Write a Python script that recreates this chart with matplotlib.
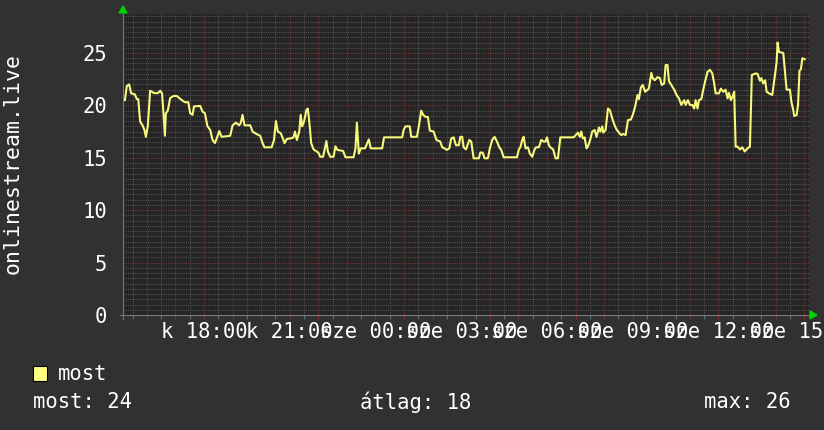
import matplotlib
matplotlib.use("Agg")
import matplotlib.pyplot as plt
from matplotlib.patches import Rectangle, Polygon
import numpy as np

# minutes since the left edge (15:10) and viewer counts
minutes = [4, 8, 13, 17, 25, 29, 32, 36, 41, 45, 48, 52, 57, 64, 71, 74, 78, 82, 85, 88,
           90, 94, 99, 106, 113, 118, 125, 130, 137, 141, 146, 149, 162, 167, 172, 177, 183, 188, 193, 198,
           202, 207, 225, 230, 237, 244, 247, 251, 255, 267, 272, 281, 288, 293, 297, 312, 317, 321, 325, 331,
           336, 339, 344, 352, 358, 361, 365, 370, 373, 376, 380, 385, 388, 392, 395, 400, 410, 414, 420, 423,
           427, 430, 435, 442, 446, 450, 462, 467, 484, 488, 491, 495, 499, 508, 516, 520, 523, 544,
           548, 586, 589, 593, 602, 605, 617, 621, 626, 630, 635, 640, 644, 652, 658, 666, 670, 675, 680, 685,
           689, 694, 699, 705, 708, 712, 715, 720, 727, 731, 736, 747, 750, 755, 759, 766, 770, 775, 780, 785,
           790, 794, 799, 827, 831, 834, 838, 841, 845, 850, 854, 859, 864, 867, 873, 878, 883, 887, 890, 894,
           897, 903, 908, 913, 918, 946, 951, 955, 959, 962, 965, 969, 973, 976, 980, 985, 990, 994, 999, 1002,
           1006, 1008, 1013, 1018, 1022, 1027, 1032, 1036, 1041, 1046, 1050, 1055, 1060, 1066, 1070, 1075, 1080, 1083, 1087, 1091,
           1096, 1104, 1109, 1112, 1116, 1122, 1127, 1131, 1136, 1139, 1143, 1146, 1151, 1157, 1162, 1167, 1172, 1178, 1181, 1186,
           1190, 1195, 1199, 1202, 1206, 1209, 1214, 1218, 1222, 1227, 1232, 1237, 1241, 1244, 1251, 1255, 1260, 1265, 1269, 1272,
           1276, 1279, 1283, 1286, 1290, 1295, 1300, 1305, 1311, 1316, 1320, 1328, 1332, 1337, 1340, 1344, 1348, 1351, 1356, 1363,
           1367, 1372, 1374, 1377, 1386, 1390, 1393, 1400, 1403, 1407, 1409, 1414, 1417, 1420, 1423, 1426, 1431]
viewers = [20.5, 21.85, 22.0, 21.15, 21.05, 20.6, 20.6, 18.45, 18.1, 17.65, 17.0, 18.0, 21.4, 21.2, 21.15, 21.2, 21.4, 21.15, 19.25, 17.1,
           19.25, 19.5, 20.7, 20.9, 20.9, 20.7, 20.45, 20.3, 20.3, 19.25, 19.1, 19.9, 19.95, 19.4, 19.25, 18.05, 17.65, 16.7, 16.4, 17.0,
           17.55, 17.0, 17.1, 18.1, 18.35, 18.1, 18.3, 19.1, 18.1, 18.1, 17.5, 17.25, 17.1, 16.4, 16.0, 16.0, 16.7, 18.5, 17.5, 17.35,
           16.8, 16.4, 16.8, 16.85, 16.95, 17.5, 16.7, 17.5, 19.1, 18.0, 18.45, 19.55, 19.7, 18.0, 16.4, 15.8, 15.5, 15.1, 15.1, 15.75,
           16.6, 15.6, 15.1, 15.1, 16.1, 15.75, 15.65, 15.05, 15.05, 15.9, 18.35, 15.4, 15.9, 15.9, 16.75, 15.9, 15.9, 15.9,
           16.95, 16.95, 17.65, 18.0, 18.0, 17.0, 17.0, 18.0, 19.5, 19.1, 18.9, 18.9, 17.6, 17.5, 16.7, 16.55, 16.0, 15.9, 15.75, 15.9,
           16.85, 16.95, 16.2, 16.2, 17.0, 17.0, 16.0, 15.8, 16.7, 16.55, 14.95, 14.95, 15.5, 15.5, 14.95, 14.95, 15.9, 16.7, 17.0, 16.55,
           16.0, 15.75, 15.05, 15.05, 15.8, 16.0, 16.7, 17.0, 15.9, 16.0, 15.4, 15.1, 15.8, 16.0, 16.0, 16.7, 16.55, 16.55, 16.95, 16.2,
           16.0, 15.8, 14.95, 14.95, 16.95, 16.95, 17.2, 17.4, 17.0, 17.5, 16.85, 16.95, 15.9, 16.1, 16.6, 17.5, 17.65, 17.0, 17.9, 17.5,
           18.0, 17.4, 17.65, 19.7, 19.55, 18.75, 18.1, 17.7, 17.4, 17.17, 17.27, 17.17, 18.6, 18.65, 19.08, 19.87, 21.0, 20.6, 21.7, 21.95,
           21.3, 21.6, 23.1, 22.6, 22.4, 22.7, 22.6, 21.95, 22.1, 23.85, 23.85, 22.3, 21.95, 21.5, 21.0, 20.67, 20.04, 20.5, 20.04, 20.5,
           20.04, 20.04, 19.7, 20.5, 19.7, 20.5, 20.6, 21.5, 22.3, 23.2, 23.4, 23.05, 22.1, 21.15, 21.15, 21.6, 21.3, 21.5, 20.67, 21.2,
           20.5, 20.8, 21.3, 16.06, 16.06, 15.8, 16.0, 15.6, 15.9, 16.06, 22.9, 23.05, 23.0, 22.35, 22.6, 22.1, 22.4, 21.3, 21.15, 21.0,
           22.4, 24.1, 26.0, 25.1, 25.0, 23.05, 21.5, 21.5, 20.35, 19.55, 18.98, 19.08, 20.04, 23.3, 23.45, 24.5, 24.4]

tick_minutes = [170, 350, 530, 710, 890, 1070, 1250, 1430]
tick_labels = ["k 18:00", "k 21:00", "sze 00:00", "sze 03:00", "sze 06:00",
               "sze 09:00", "sze 12:00", "sze 15:00"]
y_ticks = [0, 5, 10, 15, 20, 25]
stats = {"most": 24, "átlag": 18, "max": 26}

W, H = 824, 430
canvas = '#313131'
plotbg = '#252525'
minor_c = '#525252'
major_c = '#6e3232'
line_c = '#f8f87c'
mono = 'DejaVu Sans Mono'
fs = 14.8

fig = plt.figure(figsize=(W / 100, H / 100), dpi=100, facecolor=canvas)
left, right, top, bottom = 123, 809, 14, 315
ax = fig.add_axes([left / W, 1 - bottom / H, (right - left) / W, (bottom - top) / H])
ax.set_facecolor(plotbg)
ax.set_xlim(0, 1440)
ax.set_ylim(0, 28.72)

# grid like rrdtool: minor every 30 min / 0.5, major every hour / 5
half_hours = np.arange(20, 1440, 60)
hours = np.arange(50, 1440, 60)
for m in half_hours:
    ax.axvline(m, color=minor_c, lw=0.8, ls=(0, (1, 1)), zorder=1)
for m in hours:
    ax.axvline(m, color=major_c, lw=0.8, ls=(0, (1, 1)), zorder=1)
for v in np.arange(0.5, 28.7, 0.5):
    c = major_c if v % 5 == 0 else minor_c
    ax.axhline(v, color=c, lw=0.8, ls=(0, (1, 1)), zorder=1)

# small tick marks under the time axis
tr = ax.get_xaxis_transform()
ax.vlines(half_hours, -0.012, 0, transform=tr, color='#666666', lw=0.8, clip_on=False)
ax.vlines(hours, -0.012, 0, transform=tr, color='#8a3030', lw=0.8, clip_on=False)

ax.plot(minutes, viewers, color=line_c, lw=1.5, zorder=3)

for s in ax.spines.values():
    s.set_visible(False)
ax.plot([0, 0], [-0.012, 1], transform=ax.transAxes, color='#777777', lw=0.8, clip_on=False, zorder=2)
ax.plot([-0.005, 1], [0, 0], transform=ax.transAxes, color='#777777', lw=0.8, clip_on=False, zorder=2)

ax.set_xticks(tick_minutes)
ax.set_xticklabels(tick_labels, fontfamily=mono, fontsize=fs, color='white')
ax.set_yticks(y_ticks)
ax.set_yticklabels([str(v) for v in y_ticks], fontfamily=mono, fontsize=fs, color='white')
ax.tick_params(axis='x', length=0, pad=5)
ax.tick_params(axis='y', length=0, pad=11.5)

# green arrows at the axis ends
fig.patches.append(Polygon([[left - 4, H - 13], [left + 4, H - 13], [left, H - 6]], closed=True,
                           color='#00d000', transform=None, figure=fig))
fig.patches.append(Polygon([[right + 1, H - bottom - 4], [right + 1, H - bottom + 4], [right + 8, H - bottom]],
                           closed=True, color='#00d000', transform=None, figure=fig))

fig.text(13 / W, 1 - 164 / H, "onlinestream.live", rotation=90, ha='center', va='center',
         fontfamily=mono, fontsize=15.5, color='white')

# legend
fig.patches.append(Rectangle((33 / W, 1 - 381 / H), 14 / W, 15 / H, facecolor='#ffff80',
                             edgecolor='black', lw=0.8, transform=fig.transFigure, figure=fig))
fig.text(58 / W, 1 - 374 / H, "most", ha='left', va='center', fontfamily=mono, fontsize=fs, color='white')
fig.text(33 / W, 1 - 402 / H, "most: %d" % stats["most"], ha='left', va='center',
         fontfamily=mono, fontsize=fs, color='white')
fig.text(360 / W, 1 - 402 / H, "átlag: %d" % stats["átlag"], ha='left', va='center',
         fontfamily=mono, fontsize=fs, color='white')
fig.text(791 / W, 1 - 402 / H, "max: %d" % stats["max"], ha='right', va='center',
         fontfamily=mono, fontsize=fs, color='white')

fig.savefig("out.png", dpi=100, facecolor=canvas)
